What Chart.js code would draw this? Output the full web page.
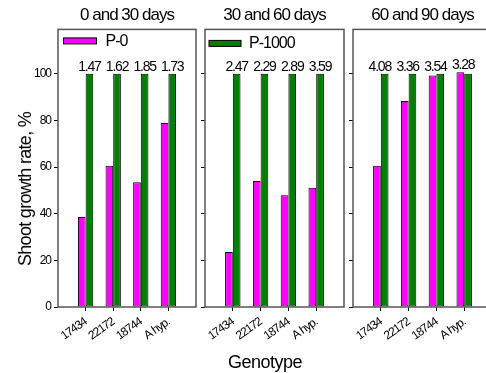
<!DOCTYPE html>
<html>
<head>
<meta charset="utf-8">
<script src="https://cdn.jsdelivr.net/npm/chart.js@4.4.1/dist/chart.umd.min.js"></script>
<style>
  html, body { margin: 0; padding: 0; background: #fff; overflow: hidden; }
  #wrap { position: relative; width: 486px; height: 373px; overflow: hidden; background: #fff; }
  #wrap canvas { position: absolute; top: 0; }
  .axis-title {
    position: absolute; color: #000; white-space: nowrap;
    font-family: "Liberation Sans", Arial, sans-serif; font-size: 18px; line-height: 18px;
  }
  #ytitle { left: 25px; top: 189px; letter-spacing: -0.7px; transform: translate(-50%, -50%) rotate(-90deg); }
  #xtitle { left: 265px; top: 353px; letter-spacing: -0.5px; transform: translateX(-50%); }
</style>
</head>
<body>
<div id="wrap">
  <canvas id="panel1" width="200" height="373" style="left:0px"></canvas>
  <canvas id="panel2" width="148" height="373" style="left:200px"></canvas>
  <canvas id="panel3" width="148" height="373" style="left:348px"></canvas>
  <div class="axis-title" id="ytitle">Shoot growth rate, %</div>
  <div class="axis-title" id="xtitle">Genotype</div>
</div>
<script>
// Genotypes on the x axis and the three observation intervals
const genotypes = ['17434', '22172', '18744', 'A hyp.'];
const periods = ['0 and 30 days', '30 and 60 days', '60 and 90 days'];
const seriesNames = ['P-0', 'P-1000'];

// Shoot growth rate (%) per interval, P-0 treatment
const p0_0_30 = [38.6, 60.5, 53.5, 78.9];
const p0_30_60 = [23.6, 54.0, 47.9, 51.1];
const p0_60_90 = [60.5, 88.3, 99.2, 100.6];

// Shoot growth rate (%) per interval, P-1000 treatment
const p1000_0_30 = [100, 100, 100, 100];
const p1000_30_60 = [100, 100, 100, 100];
const p1000_60_90 = [100, 100, 100, 100];

// Ratios printed above each genotype pair
const ratio_0_30 = ['1.47', '1.62', '1.85', '1.73'];
const ratio_30_60 = ['2.47', '2.29', '2.89', '3.59'];
const ratio_60_90 = ['4.08', '3.36', '3.54', '3.28'];

// Y axis tick values
const yTicks = [0, 20, 40, 60, 80, 100];
const yMax = 119;

const FONT = '"Liberation Sans", Arial, sans-serif';
const MAGENTA = '#FF00FF';
const GREEN = '#008000';
const FRAME = '#555555';

// Tight letter spacing for all canvas text
const tightText = {
  id: 'tightText',
  beforeDraw(chart) { chart.ctx.letterSpacing = '-1px'; }
};

// Box around the plotting area
const frame = {
  id: 'frame',
  afterDatasetsDraw(chart) {
    const { ctx, chartArea: a } = chart;
    ctx.save();
    ctx.strokeStyle = FRAME;
    ctx.lineWidth = 1.5;
    ctx.strokeRect(a.left, a.top, a.right - a.left, a.bottom - a.top);
    ctx.restore();
  }
};

// Single legend key drawn inside the plot
const insideKey = {
  id: 'insideKey',
  afterDatasetsDraw(chart, args, opts) {
    if (opts.dataset == null) return;
    const ds = chart.data.datasets[opts.dataset];
    const { ctx, chartArea: a } = chart;
    const x = a.left + opts.dx, y = a.top + opts.dy;
    ctx.save();
    ctx.fillStyle = ds.backgroundColor;
    ctx.fillRect(x, y, opts.w, opts.h);
    ctx.strokeStyle = '#000';
    ctx.lineWidth = 1;
    ctx.strokeRect(x, y, opts.w, opts.h);
    ctx.fillStyle = '#000';
    ctx.font = '16px ' + FONT;
    ctx.letterSpacing = '-1px';
    ctx.textBaseline = 'middle';
    ctx.textAlign = 'left';
    ctx.fillText(ds.label, x + opts.w + opts.gap, y + opts.h / 2 + 0.5);
    ctx.restore();
  }
};

// Ratio labels above each genotype pair
const ratioLabels = {
  id: 'ratioLabels',
  afterDatasetsDraw(chart, args, opts) {
    const { ctx } = chart;
    const m0 = chart.getDatasetMeta(0).data;
    const m1 = chart.getDatasetMeta(1).data;
    ctx.save();
    ctx.fillStyle = '#000';
    ctx.font = '14px ' + FONT;
    ctx.letterSpacing = '-1.2px';
    ctx.textAlign = 'center';
    ctx.textBaseline = 'alphabetic';
    opts.labels.forEach((txt, i) => {
      const g = m1[i], p = m0[i];
      const top = Math.min(g.y, p.y);
      const cx = opts.overPair ? (p.x + g.x) / 2 - 1 : g.x;
      ctx.fillText(txt, cx, top - 3);
    });
    ctx.restore();
  }
};

function points(values) {
  return values.map((v, i) => ({ x: i + 1, y: v }));
}

function makePanel(id, title, p0, p1000, ratios, cfg) {
  const ctx = document.getElementById(id);
  return new Chart(ctx, {
    type: 'bar',
    data: {
      datasets: [
        { label: seriesNames[0], data: points(p0), backgroundColor: MAGENTA, borderColor: '#000', borderWidth: 1, borderSkipped: false },
        { label: seriesNames[1], data: points(p1000), backgroundColor: GREEN, borderColor: '#000', borderWidth: 1, borderSkipped: false }
      ]
    },
    options: {
      responsive: false,
      animation: false,
      events: [],
      categoryPercentage: 0.555,
      barPercentage: 1.0,
      layout: { padding: { left: 0, right: 4, top: 0, bottom: 0 } },
      plugins: {
        legend: { display: false },
        tooltip: { enabled: false },
        title: {
          display: true, text: title, fullSize: false, color: '#000',
          font: { family: FONT, size: 17, weight: 'normal' },
          padding: { top: 5, bottom: 4 }
        },
        insideKey: cfg.key || {},
        ratioLabels: { labels: ratios, overPair: !!cfg.overPair }
      },
      scales: {
        x: {
          type: 'linear', min: 0, max: 5, offset: false,
          afterBuildTicks(s) { s.ticks = genotypes.map((g, i) => ({ value: i + 1 })); },
          afterFit(s) { s.height = 66; },
          border: { display: false },
          grid: { drawOnChartArea: false, drawTicks: true, tickLength: 4, color: '#000', lineWidth: 1, offset: false },
          ticks: {
            autoSkip: false, minRotation: 35, maxRotation: 35, padding: 4, color: '#000',
            font: { family: FONT, size: 12 },
            callback: (v) => genotypes[v - 1]
          }
        },
        y: {
          type: 'linear', min: 0, max: yMax,
          afterBuildTicks(s) { s.ticks = yTicks.map(v => ({ value: v })); },
          afterFit(s) { s.width = cfg.yWidth; },
          border: { display: false },
          grid: { drawOnChartArea: false, drawTicks: true, tickLength: 4, color: '#000', lineWidth: 1 },
          ticks: {
            display: cfg.yLabels, padding: 3, color: '#000',
            font: { family: FONT, size: 12 }
          }
        }
      }
    },
    plugins: [tightText, frame, insideKey, ratioLabels]
  });
}

makePanel('panel1', periods[0], p0_0_30, p1000_0_30, ratio_0_30,
  { yWidth: 58, yLabels: true, key: { dataset: 0, dx: 5.5, dy: 8.5, w: 33, h: 6, gap: 9 } });
makePanel('panel2', periods[1], p0_30_60, p1000_30_60, ratio_30_60,
  { yWidth: 5, yLabels: false, key: { dataset: 1, dx: 4, dy: 11, w: 32, h: 6, gap: 8 } });
makePanel('panel3', periods[2], p0_60_90, p1000_60_90, ratio_60_90,
  { yWidth: 5, yLabels: false, overPair: true });
</script>
</body>
</html>
